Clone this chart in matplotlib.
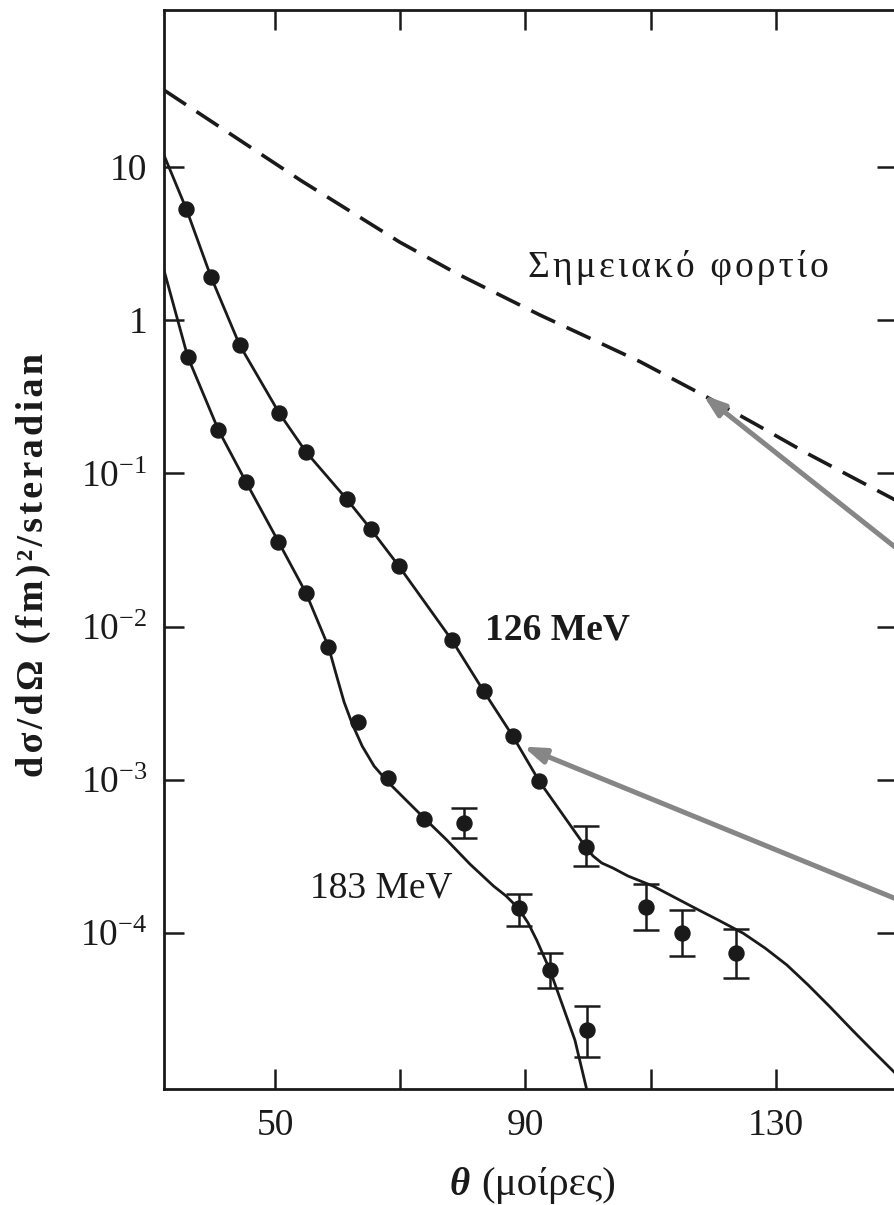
import matplotlib
matplotlib.use("Agg")
import matplotlib.pyplot as plt
import numpy as np
from matplotlib.ticker import NullLocator, FixedLocator, FixedFormatter

plt.rcParams["font.family"] = ["Liberation Serif", "DejaVu Serif"]
plt.rcParams["mathtext.fontset"] = "custom"
plt.rcParams["mathtext.rm"] = "Liberation Serif"
plt.rcParams["mathtext.it"] = "Liberation Serif:italic"
plt.rcParams["mathtext.bf"] = "Liberation Serif:bold"

# ---- measured cross sections (fm^2/sr) vs scattering angle (degrees) ----
theta_126 = [35.8, 39.7, 44.3, 50.6, 54.9, 61.4, 65.3, 69.7, 78.2, 83.3,
             88.0, 92.2, 99.6, 109.3, 115.0, 123.7]
sigma_126 = [5.27, 1.92, 0.687, 0.248, 0.138, 0.068, 0.0431, 0.025, 8.2e-3,
             3.8e-3, 1.92e-3, 9.8e-4, 3.66e-4, 1.49e-4, 1.01e-4, 7.4e-5]
upper_126 = [np.nan] * 12 + [4.97e-4, 2.11e-4, 1.41e-4, 1.06e-4]
lower_126 = [np.nan] * 12 + [2.74e-4, 1.05e-4, 7.07e-5, 5.08e-5]

theta_183 = [36.0, 40.9, 45.3, 50.5, 54.9, 58.5, 63.3, 68.0, 73.8, 80.2,
             88.9, 93.9, 99.8]
sigma_183 = [0.576, 0.192, 0.0881, 0.0358, 0.0166, 7.4e-3, 2.4e-3, 1.03e-3,
             5.56e-4, 5.2e-4, 1.45e-4, 5.75e-5, 2.34e-5]
upper_183 = [np.nan] * 9 + [6.53e-4, 1.80e-4, 7.43e-5, 3.35e-5]
lower_183 = [np.nan] * 9 + [4.16e-4, 1.11e-4, 4.39e-5, 1.56e-5]

# ---- theoretical curves ----
fit_126_theta = [32.2, 35.8, 39.7, 44.3, 50.6, 54.9, 61.4, 65.3, 69.7, 78.2,
                 83.3, 88.0, 92.2, 99.6, 100.8, 102.2, 104.0, 106.4, 110.4,
                 116.8, 120.8, 124.8, 128.3, 131.8, 135.2, 138.7, 142.4,
                 145.9, 149.4]
fit_126_sigma = [11.9, 5.27, 1.92, 0.687, 0.248, 0.138, 0.068, 0.0431, 0.025,
                 8.2e-3, 3.8e-3, 1.92e-3, 9.8e-4, 3.66e-4, 3.19e-4, 2.87e-4,
                 2.66e-4, 2.36e-4, 2.03e-4, 1.48e-4, 1.22e-4, 1.0e-4, 8.0e-5,
                 6.2e-5, 4.59e-5, 3.30e-5, 2.30e-5, 1.65e-5, 1.19e-5]

fit_183_theta = [32.2, 36.0, 40.9, 45.3, 50.5, 54.9, 58.5, 59.9, 61.0, 62.3,
                 63.9, 65.8, 68.0, 70.6, 73.8, 77.4, 81.1, 84.9, 86.9, 88.9,
                 90.4, 91.8, 93.9, 96.0, 97.9, 100.0]
fit_183_sigma = [2.12, 0.576, 0.192, 0.0881, 0.0358, 0.0166, 7.39e-3, 4.62e-3,
                 3.22e-3, 2.32e-3, 1.66e-3, 1.23e-3, 9.7e-4, 7.6e-4, 5.64e-4,
                 4.06e-4, 2.83e-4, 2.03e-4, 1.75e-4, 1.45e-4, 1.17e-4, 9.0e-5,
                 5.75e-5, 3.32e-5, 2.01e-5, 8.8e-6]

# point-charge (Mott) reference curve
point_theta = [32.2, 54.0, 69.9, 79.0, 92.3, 100.3, 108.3, 118.4, 126.7,
               135.0, 149.1]
point_sigma = [31.6, 8.17, 3.22, 2.01, 1.078, 0.76, 0.535, 0.324, 0.21,
               0.135, 0.067]

x_ticks = [50, 70, 90, 110, 130]
x_tick_labels = ["50", "", "90", "", "130"]
y_ticks = [1e-4, 1e-3, 1e-2, 1e-1, 1, 10]
y_tick_labels = [r"$\mathregular{10^{-4}}$", r"$\mathregular{10^{-3}}$",
                 r"$\mathregular{10^{-2}}$", r"$\mathregular{10^{-1}}$",
                 "1", "10"]


def spaced(s, gap="\u200a"):
    """Open up the letter spacing of a label."""
    return gap.join(s)


W, H = 895, 1205
fig = plt.figure(figsize=(W / 100, H / 100), dpi=100)
fig.patch.set_facecolor("white")
ax_l, ax_r, ax_t, ax_b = 164, 897, 10, 1089
ax = fig.add_axes([ax_l / W, 1 - ax_b / H, (ax_r - ax_l) / W, (ax_b - ax_t) / H])
ax.set_yscale("log")
ax.set_xlim(32.21, 149.39)
ax.set_ylim(10 ** -5.016, 10 ** 2.022)

ink = "#1a1a1a"
ax.plot(point_theta, point_sigma, color=ink, lw=2.6, dashes=(7.3, 3.5))
ax.plot(fit_126_theta, fit_126_sigma, color=ink, lw=2.0, solid_joinstyle="round")
ax.plot(fit_183_theta, fit_183_sigma, color=ink, lw=2.0, solid_joinstyle="round")

for th, sg, up, lo in [(theta_126, sigma_126, upper_126, lower_126),
                       (theta_183, sigma_183, upper_183, lower_183)]:
    th = np.array(th); sg = np.array(sg); up = np.array(up); lo = np.array(lo)
    ax.plot(th, sg, "o", ms=10.8, color=ink, zorder=4)
    m = ~np.isnan(up)
    ax.errorbar(th[m], sg[m], yerr=[sg[m] - lo[m], up[m] - sg[m]], fmt="none",
                ecolor=ink, elinewidth=1.8, capsize=9.5, capthick=1.8, zorder=3)

ax.xaxis.set_major_locator(FixedLocator(x_ticks))
ax.xaxis.set_major_formatter(FixedFormatter(x_tick_labels))
ax.yaxis.set_major_locator(FixedLocator(y_ticks))
ax.yaxis.set_major_formatter(FixedFormatter(y_tick_labels))
ax.yaxis.set_minor_locator(NullLocator())
ax.tick_params(which="major", direction="in", length=14.5, width=1.8,
               top=True, right=True, labelsize=27, color=ink, labelcolor=ink)
ax.tick_params(axis="y", pad=12)
ax.tick_params(axis="x", pad=14)
for s in ax.spines.values():
    s.set_linewidth(2.0)
    s.set_color(ink)

fig.text(528 / W, 1 - 277 / H, spaced("Σημειακό φορτίο"),
         fontsize=27, color=ink, ha="left", va="baseline")
fig.text(485 / W, 1 - 640 / H, "126 MeV", fontsize=27, fontweight="bold",
         color=ink, ha="left", va="baseline")
fig.text(310 / W, 1 - 897 / H, "183 MeV", fontsize=27, color=ink,
         ha="left", va="baseline")

fig.text(33 / W, 1 - 565 / H, spaced("dσ/dΩ (fm)²/steradian"),
         rotation=90, fontsize=27.5, fontweight="bold", color=ink,
         ha="center", va="center")
fig.text(470 / W, 1 - 1195 / H, "θ", fontsize=28, fontweight="bold",
         fontstyle="italic", color=ink, ha="right", va="baseline")
fig.text(481 / W, 1 - 1195 / H, "(μοίρες)", fontsize=29.5,
         color=ink, ha="left", va="baseline")

gray = "#868686"
arrow = dict(arrowstyle="-|>,head_length=1.3,head_width=0.45",
             color=gray, lw=3.6, shrinkA=0, shrinkB=0)
ax.annotate("", xy=(118.4, 0.324), xytext=(159.5, 0.0152),
            arrowprops=arrow, annotation_clip=False)
ax.annotate("", xy=(89.65, 1.65e-3), xytext=(159.5, 1.13e-4),
            arrowprops=arrow, annotation_clip=False)

fig.savefig("out.png", dpi=100)
